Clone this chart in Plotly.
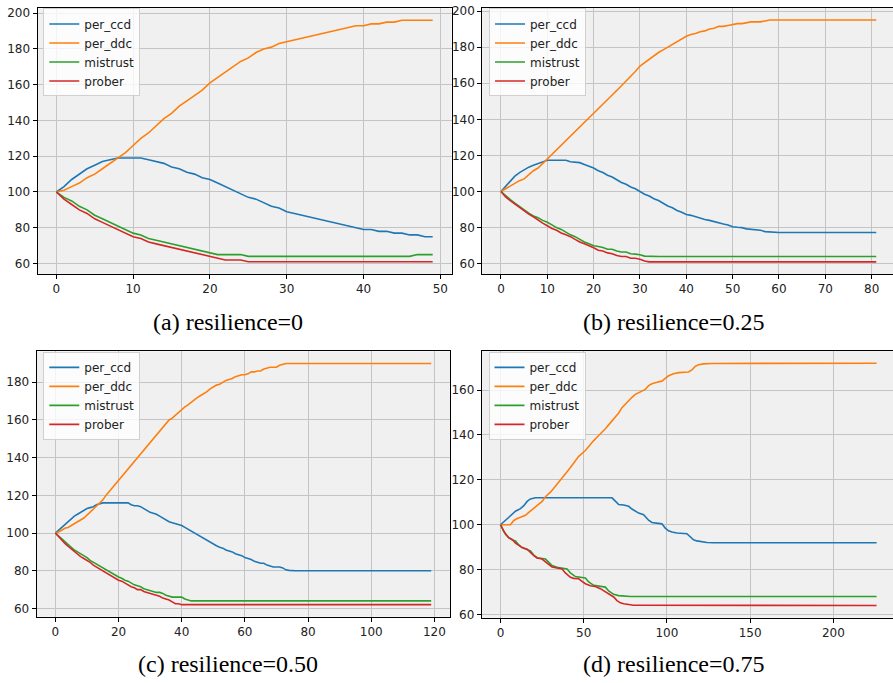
import plotly.graph_objects as go

series_names = ["per_ccd", "per_ddc", "mistrust", "prober"]
colors = ["#1f77b4", "#ff7f0e", "#2ca02c", "#d62728"]
captions = ["(a) resilience=0", "(b) resilience=0.25", "(c) resilience=0.50", "(d) resilience=0.75"]

# ---------------- panel (a) resilience=0 ----------------
a_x = list(range(50))
a_ccd = [100, 103, 107, 110, 113, 115, 117, 118, 119, 119,
         119, 119, 118, 117, 116, 114, 113, 111, 110, 108,
         107, 105, 103, 101, 99, 97, 96, 94, 92, 91,
         89, 88, 87, 86, 85, 84, 83, 82, 81, 80,
         79, 79, 78, 78, 77, 77, 76, 76, 75, 75]
a_ddc = [100, 101, 103, 105, 108, 110, 113, 116, 119, 122,
         126, 130, 133, 137, 141, 144, 148, 151, 154, 157,
         161, 164, 167, 170, 173, 175, 178, 180, 181, 183,
         184, 185, 186, 187, 188, 189, 190, 191, 192, 193,
         193, 194, 194, 195, 195, 196, 196, 196, 196, 196]
a_mis = [100, 97, 95, 92, 90, 87, 85, 83, 81, 79,
         77, 76, 74, 73, 72, 71, 70, 69, 68, 67,
         66, 65, 65, 65, 65, 64, 64, 64, 64, 64,
         64, 64, 64, 64, 64, 64, 64, 64, 64, 64,
         64, 64, 64, 64, 64, 64, 64, 65, 65, 65]
a_pro = [100, 96, 93, 90, 88, 85, 83, 81, 79, 77,
         75, 74, 72, 71, 70, 69, 68, 67, 66, 65,
         64, 63, 62, 62, 62, 61, 61, 61, 61, 61,
         61, 61, 61, 61, 61, 61, 61, 61, 61, 61,
         61, 61, 61, 61, 61, 61, 61, 61, 61, 61]

# ---------------- panel (b) resilience=0.25 ----------------
b_x = list(range(82))
b_ccd = [100, 103, 106, 108.5, 110.5, 112, 113.5, 114.5, 115.5, 116.5,
         117.3, 117.3, 117.3, 117.3, 117.3, 116.5, 116.2, 116, 115, 114,
         113, 111.5, 110.5, 109, 108, 106.5, 105, 104, 102.5, 101.5,
         100, 98.5, 97.5, 96, 95, 93.5, 92, 91, 89.5, 88.5,
         87.3, 86.8, 86, 85, 84.5, 84, 83.2, 82.8, 82, 81.5,
         80.5, 80.2, 80, 79.3, 79, 79, 78.5, 77.8, 77.5, 77.3] + [77.3] * 22
b_ddc = [100, 101.5, 103, 104.5, 106, 107, 109.5, 111.5, 113, 115.5,
         118, 120.5, 123, 125.5, 128, 131, 133.5, 136, 138.5, 141,
         143.5, 146, 148.5, 151, 153.5, 156, 158.5, 161.5, 164, 166.5,
         169.5, 171.5, 173.5, 175.5, 177, 178.5, 180, 181.5, 183, 184.5,
         186, 187, 187.5, 188.5, 189, 190, 190.5, 191.5, 191.5, 192,
         192.5, 193, 193, 193.5, 194, 194, 194, 194.5, 195, 195] + [195] * 22
b_mis = [100, 97.5, 95.5, 93.5, 91.5, 89.5, 88, 86.5, 85.5, 84,
         83, 81.5, 80, 79, 77.5, 76, 75, 73.5, 72, 71,
         70, 69.5, 69, 68, 68, 67, 66.5, 66.5, 65.5, 65.3,
         65, 64.2] + [64] * 50
b_pro = [100, 97, 95, 93, 91, 89, 87.5, 86, 84, 82.5,
         81, 79.5, 78.5, 77, 76, 75, 73.5, 72, 71, 70,
         68.8, 67.5, 67, 66, 65.5, 64.5, 64, 64, 63, 63,
         62.5, 61.5] + [61] * 50

# ---------------- panel (c) resilience=0.50 ----------------
c_x = list(range(120))
c_ccd = [100, 101.5, 103, 105, 106.5, 108, 109, 110, 111, 112,
         113, 113.5, 114, 115, 115.5, 116, 116, 116, 116, 116,
         116, 116, 116, 116, 115, 114.5, 114.5, 114, 113, 112,
         111, 110.5, 110, 109, 108, 107, 106, 105.5, 105, 104.5,
         104, 103, 102, 101, 100, 99, 98, 97, 96, 95,
         94, 93.3, 92.5, 92, 91, 90.5, 90, 89, 88.5, 88,
         87, 86.5, 86, 85, 84.5, 84, 84, 83, 82.5, 82,
         82, 82, 81.5, 80.5, 80.2, 80, 80, 80, 80, 80] + [80] * 40
c_ddc = [100, 100.5, 101.5, 102.5, 103, 104, 105, 106, 107, 108,
         109.5, 111, 112.5, 114, 115.5, 117.5, 120, 122, 124, 126,
         128, 130.5, 132.5, 134.5, 136.5, 138.5, 140.5, 142, 144, 146,
         148, 150, 152, 154, 156, 158, 160, 161, 162.5, 164,
         166, 167, 168, 169.5, 171, 172, 173, 174, 175, 176.5,
         177.5, 178.5, 179, 180, 181, 181.5, 182, 183, 183.5, 184,
         184, 184.5, 185.5, 185.5, 186, 186, 187, 187.5, 188, 188,
         188, 189, 189.5] + [190] * 47
c_mis = [100, 98.5, 96.5, 95, 93.5, 92, 91, 90, 89, 88,
         87, 85.5, 84.5, 83.5, 82.5, 81.5, 80.5, 79.5, 78.5, 77.5,
         76.7, 76, 75, 74.5, 73.5, 72.5, 72, 71.5, 70.5, 70,
         69.5, 69, 68.5, 68.5, 68, 67, 66.5, 66, 66, 66,
         66, 65, 64.5] + [64] * 77
c_pro = [100, 98, 96, 94.5, 93, 91.5, 90.5, 89, 87.5, 86.5,
         85.5, 84.5, 83, 82, 81, 80, 79, 78, 77, 76,
         75, 74.5, 73.5, 72.5, 71.5, 71, 70, 70, 69, 68.5,
         68, 67.5, 67, 66.5, 65.5, 65, 64.5, 63.5, 62.5, 62.5] + [62] * 80

# ---------------- panel (d) resilience=0.75 (read at breakpoints) ----------------
d_ccd_x = [0, 3, 5, 7, 9, 12, 14, 16, 18, 21, 67, 69, 71, 74, 77, 79, 81, 83, 86, 88,
           89, 91, 93, 97, 99, 101, 103, 106, 112, 114, 116, 118, 121, 124, 128, 226]
d_ccd = [100, 102, 103, 104.5, 106, 107.2, 108.5, 110.4, 111.5, 112, 112, 110.5, 109, 108.8, 108.2, 107, 106, 105.2, 104.5, 103,
         102, 101, 100.8, 100.4, 98.5, 97.3, 96.8, 96.3, 96, 94.5, 93.3, 92.8, 92.4, 92.1, 92, 92]
d_ddc_x = [0, 6, 8, 10, 12, 15, 17, 19, 22, 25, 27, 30, 32, 34, 37, 40, 42, 45, 47, 51,
           53, 56, 59, 61, 63, 65, 67, 69, 71, 73, 75, 77, 79, 81, 84, 87, 89, 91, 94, 97,
           99, 101, 104, 107, 113, 115, 117, 119, 122, 127, 226]
d_ddc = [100, 100, 101.9, 102.8, 103.3, 104.2, 105.5, 106.7, 108.2, 110.4, 112.5, 114.5, 116.3, 118, 121, 123.6, 125.5, 128.7, 130.5, 133.1,
         135, 137.5, 139.8, 141.2, 142.8, 144.5, 146.3, 148.5, 149.8, 152.2, 153.8, 155.2, 156.8, 158.1, 159.3, 160.3, 162, 162.8, 163.5, 164,
         165.2, 166.4, 167.3, 167.8, 168.1, 169, 170.6, 171.3, 171.7, 171.9, 172]
d_mis_x = [0, 2, 5, 7, 9, 11, 13, 16, 18, 20, 22, 27, 29, 31, 34, 37, 40, 42, 45, 51,
           53, 56, 63, 65, 68, 71, 75, 78, 226]
d_mis = [100, 97, 94.2, 93.2, 92.8, 91, 89.8, 88.7, 88.3, 86.5, 85.3, 84.7, 83, 81.8, 81, 80.7, 80.3, 78.5, 76.9, 76.3,
         74.5, 73, 72.2, 70.5, 69, 68.4, 68.1, 68, 68]
d_pro_x = [0, 3, 5, 7, 9, 11, 13, 16, 18, 20, 22, 25, 27, 29, 31, 34, 37, 39, 42, 44,
           47, 49, 51, 54, 57, 60, 63, 65, 68, 70, 72, 74, 77, 80, 226]
d_pro = [100, 95.7, 94.2, 93.5, 91.8, 90.6, 89.8, 89.1, 87.5, 86.2, 85.2, 84.7, 83.5, 82.2, 81.2, 80.7, 80.3, 78.5, 76.6, 76.1,
         75.9, 74.8, 73.7, 72.8, 72.5, 71.5, 70, 69, 67.8, 66.2, 65.2, 64.8, 64.3, 64.1, 64]

panels = [
    [(a_x, a_ccd), (a_x, a_ddc), (a_x, a_mis), (a_x, a_pro)],
    [(b_x, b_ccd), (b_x, b_ddc), (b_x, b_mis), (b_x, b_pro)],
    [(c_x, c_ccd), (c_x, c_ddc), (c_x, c_mis), (c_x, c_pro)],
    [(d_ccd_x, d_ccd), (d_ddc_x, d_ddc), (d_mis_x, d_mis), (d_pro_x, d_pro)],
]

W, H = 893, 683

# layout geometry (pixels): left, right, top, bottom of each plot area
geom = [
    dict(l=37.5, r=451.5, t=4.3, b=273.0, xr=[-2.45, 51.45], yr=[54.25, 202.75], dx=10, mir=True),
    dict(l=482.2, r=893.0, t=4.0, b=273.2, xr=[-4.05, 84.61], yr=[54.3, 201.7], dx=10, mir=False),
    dict(l=36.6, r=450.0, t=351.5, b=620.0, xr=[-5.95, 124.95], yr=[55.6, 196.4], dx=20, mir=True),
    dict(l=481.7, r=893.0, t=351.2, b=620.9, xr=[-11.3, 235.86], yr=[58.6, 177.4], dx=50, mir=False),
]
legend_pos = [(43.3, 4.5), (489.0, 4.5), (43.3, 352.0), (488.5, 352.0)]
caption_pos = [(228, 322), (673, 322), (228, 668), (673, 668)]

fig = go.Figure()
tickfont = dict(family="DejaVu Sans", size=12, color="#222222")
axis_common = dict(showline=True, linecolor="black", linewidth=1, ticks="outside", ticklen=4,
                   tickwidth=1, tickcolor="black", showgrid=True, gridcolor="#c4c4c4", gridwidth=1,
                   zeroline=False, tickfont=tickfont)

layout = {}
for i, (pan, g) in enumerate(zip(panels, geom)):
    n = "" if i == 0 else str(i + 1)
    lg = "legend" if i == 0 else "legend" + str(i + 1)
    for j, (xs, ys) in enumerate(pan):
        fig.add_trace(go.Scatter(x=xs, y=ys, mode="lines", name=series_names[j],
                                 line=dict(color=colors[j], width=1.6),
                                 xaxis="x" + n, yaxis="y" + n, legend=lg, showlegend=True))
    layout["xaxis" + n] = dict(domain=[g["l"] / W, g["r"] / W], range=g["xr"], dtick=g["dx"],
                               tick0=0, anchor="y" + n, mirror=True, **axis_common)
    layout["yaxis" + n] = dict(domain=[1 - g["b"] / H, 1 - g["t"] / H], range=g["yr"], dtick=20,
                               tick0=0, anchor="x" + n, mirror=g["mir"], **axis_common)
    lx, ly = legend_pos[i]
    layout[lg] = dict(x=lx / W, y=1 - ly / H, xanchor="left", yanchor="top",
                      bgcolor="rgba(255,255,255,0.8)", bordercolor="#d0d0d0", borderwidth=1,
                      font=dict(family="DejaVu Sans", size=12, color="#222222"))

annotations = []
for (cx, cy), txt in zip(caption_pos, captions):
    annotations.append(dict(x=cx / W, y=1 - cy / H, xref="paper", yref="paper", text=txt,
                            showarrow=False, xanchor="center", yanchor="middle",
                            font=dict(family="Liberation Serif", size=24, color="black")))

fig.update_layout(width=W, height=H, margin=dict(l=0, r=0, t=0, b=0),
                  paper_bgcolor="white", plot_bgcolor="#f0f0f0",
                  annotations=annotations, **layout)

fig.write_html("out.html")
